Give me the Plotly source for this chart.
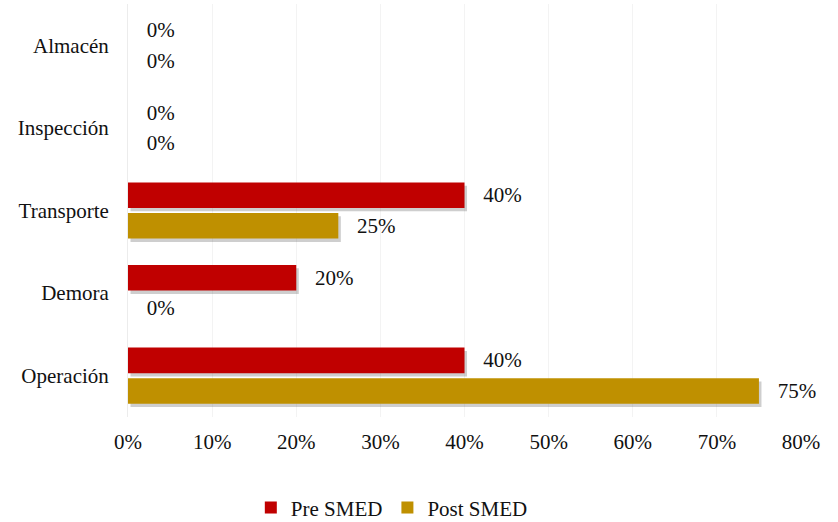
import plotly.graph_objects as go

categories = ["Almacén", "Inspección", "Transporte", "Demora", "Operación"]
pre_smed = [0, 0, 40, 20, 40]
post_smed = [0, 0, 25, 0, 75]
tick_vals = [0, 10, 20, 30, 40, 50, 60, 70, 80]
tick_text = [f"{v}%" for v in tick_vals]

FONT = "Liberation Serif"
FS = 21
TXT = "#111111"
NBSP = "\u00a0"

BAR_W = 0.31   # bar thickness in category units
GAP = 0.06     # space between the two bars of a group
SHADOW_DY = 0.04

series = [
    ("Pre SMED", pre_smed, "#C00000", -(BAR_W + GAP / 2)),
    ("Post SMED", post_smed, "#BF9000", GAP / 2),
]

fig = go.Figure()

# soft drop shadows, drawn on the base axes beneath the bars
for name, vals, color, off in series:
    fig.add_trace(go.Bar(
        y=categories, x=vals, orientation="h", name=name + " sombra",
        width=BAR_W, offset=off + SHADOW_DY,
        marker=dict(color="rgba(60,60,60,0.25)", line=dict(width=0)),
        showlegend=False, hoverinfo="skip", xaxis="x", yaxis="y",
    ))

# the bars themselves
for name, vals, color, off in series:
    fig.add_trace(go.Bar(
        y=categories, x=vals, orientation="h", name=name,
        width=BAR_W, offset=off,
        marker=dict(color=color, line=dict(width=0)),
        text=[f"{NBSP}{NBSP}{NBSP}{v}%" for v in vals], textposition="outside",
        textfont=dict(family=FONT, size=FS, color=TXT), cliponaxis=False,
        xaxis="x2", yaxis="y",
    ))

fig.update_layout(
    width=838, height=522,
    margin=dict(l=128, r=37, t=4, b=105, autoexpand=False),
    paper_bgcolor="white", plot_bgcolor="white",
    barmode="overlay",
    font=dict(family=FONT, size=FS, color=TXT),
    showlegend=True,
    legend=dict(orientation="h", x=0.392, xanchor="center", y=-0.22, yanchor="middle",
                font=dict(family=FONT, size=FS, color=TXT), traceorder="normal"),
    xaxis=dict(range=[-0.3, 79.7], showgrid=False, zeroline=False, showline=False,
               showticklabels=False, ticks=""),
    xaxis2=dict(range=[0, 80], tickvals=tick_vals, ticktext=tick_text,
                overlaying="x", side="bottom",
                showgrid=True, gridcolor="#f3f3f3", zeroline=False,
                showline=False, ticks="", ticklabelstandoff=10,
                tickfont=dict(family=FONT, size=FS, color=TXT)),
    yaxis=dict(autorange="reversed", showgrid=False, showline=True,
               linecolor="#ececec", ticks="", ticklabelstandoff=14,
               tickfont=dict(family=FONT, size=FS, color=TXT)),
)

fig.write_html("out.html")
